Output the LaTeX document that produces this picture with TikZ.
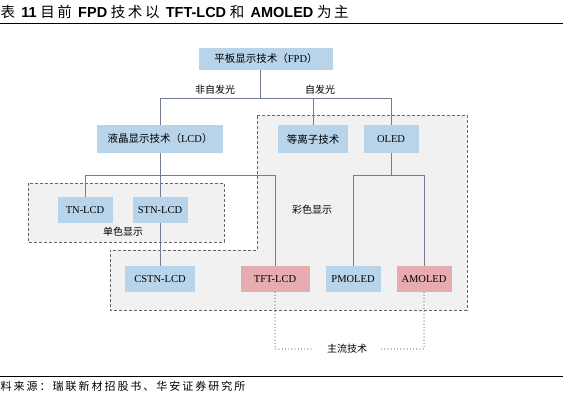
\documentclass[tikz,border=0pt]{standalone}
\usepackage{fontspec}
\setmainfont{Liberation Serif}
\setsansfont{Liberation Sans}
\newfontfamily\cjk{Noto Sans CJK SC}
\newfontfamily\cjkwide{Noto Sans CJK SC}[LetterSpace=18]
\definecolor{BoxBlue}{RGB}{183,212,235}
\definecolor{BoxPink}{RGB}{230,172,176}
\definecolor{LineGray}{RGB}{115,125,145}
\definecolor{ZoneGray}{RGB}{241,241,241}
\usetikzlibrary{positioning, calc}

\begin{document}
\begin{tikzpicture}[x=1pt, y=-1pt,
        tech/.style={fill=BoxBlue, inner sep=0pt, minimum height=26pt,
                     font=\fontsize{10.5}{12}\selectfont},
        main/.style={tech, fill=BoxPink},
        link/.style={draw=LineGray, line width=0.7pt},
        zone/.style={draw=black!60, fill=ZoneGray, dash pattern=on 3pt off 2pt,
                     line width=0.7pt},
        tag/.style={font=\cjk\fontsize{10}{12}\selectfont, inner sep=1pt},
        flow/.style={draw=black!60, line width=1.2pt, line cap=round,
                     dash pattern=on 0pt off 3.2pt}
      ]
        \useasboundingbox (0,0) rectangle (563,406);

        \node[anchor=west, inner sep=0pt, font=\fontsize{14.5}{16}\selectfont] (title) at (0.5,12)
          {{\cjkwide 表} \textbf{\sffamily 11} {\cjkwide 目前} \textbf{\sffamily FPD} {\cjkwide 技术以}
           \textbf{\sffamily TFT-LCD} {\cjkwide 和} \textbf{\sffamily AMOLED} {\cjkwide 为主}};
        \draw[black, line width=0.8pt] (0,23) -- (563,23);

        \draw[zone] (257,115) -- (467,115) -- (467,310) -- (110,310) -- (110,250)
                    -- (257,250) -- cycle;
        \draw[zone] (28,183) rectangle (224,242);

        \node[tech, minimum width=134pt, minimum height=22pt] (fpd) at (266,59)
          {{\cjk 平板显示技术（}FPD{\cjk ）}};
        \node[tech, minimum width=126pt, minimum height=28pt] (lcd) at (160,139)
          {{\cjk 液晶显示技术（}LCD{\cjk ）}};
        \node[tech, minimum width=70pt, minimum height=28pt, font=\cjk\fontsize{10.5}{12}\selectfont]
          (pdp) at (313,139) {等离子技术};
        \node[tech, minimum width=55pt, minimum height=28pt] (oled) at (391,139) {OLED};
        \node[tech, minimum width=55pt] (tn) at (85,210) {TN-LCD};
        \node[tech, minimum width=55pt] (stn) at (160,210) {STN-LCD};
        \node[tech, minimum width=70pt] (cstn) at (160,279) {CSTN-LCD};
        \node[main, minimum width=69pt] (tft) at (275,279) {TFT-LCD};
        \node[tech, minimum width=55pt] (pmoled) at (353,279) {PMOLED};
        \node[main, minimum width=55pt] (amoled) at (424,279) {AMOLED};

        \node[tag] (nonemit) at (215,90) {非自发光};
        \node[tag] (selfemit) at (320,90) {自发光};
        \node[tag] (mono) at (123,232) {单色显示};
        \node[tag] (color) at (312,210) {彩色显示};
        \node[tag, inner xsep=13pt] (mainstream) at (347,349) {主流技术};

        \coordinate (fork) at (260,98);
        \coordinate (lcdfork) at (160,175);
        \coordinate (oledfork) at (391,175);

        \draw[link] (fpd.south -| fork) -- (fork);
        \draw[link] (fork) -| (lcd.north);
        \draw[link] (fork) -| (pdp.north);
        \draw[link] (fork) -| (oled.north);

        \draw[link] (lcd.south) -- (lcdfork);
        \draw[link] (lcdfork) -| (tn.north);
        \draw[link] (lcdfork) -| (stn.north);
        \draw[link] (lcdfork) -| (tft.north);
        \draw[link] (stn.south) -- (cstn.north);

        \draw[link] (oled.south) -- (oledfork);
        \draw[link] (oledfork) -| (pmoled.north);
        \draw[link] (oledfork) -| (amoled.north);

        \draw[flow] (tft.south) |- (mainstream.west);
        \draw[flow] (amoled.south) |- (mainstream.east);

        \draw[black, line width=0.8pt] (0,376) -- (563,376);
        \node[anchor=west, inner sep=0pt, font=\cjkwide\fontsize{11}{13}\selectfont] (source) at (0.5,386)
          {料来源：瑞联新材招股书、华安证券研究所};
      \end{tikzpicture}
\end{document}
